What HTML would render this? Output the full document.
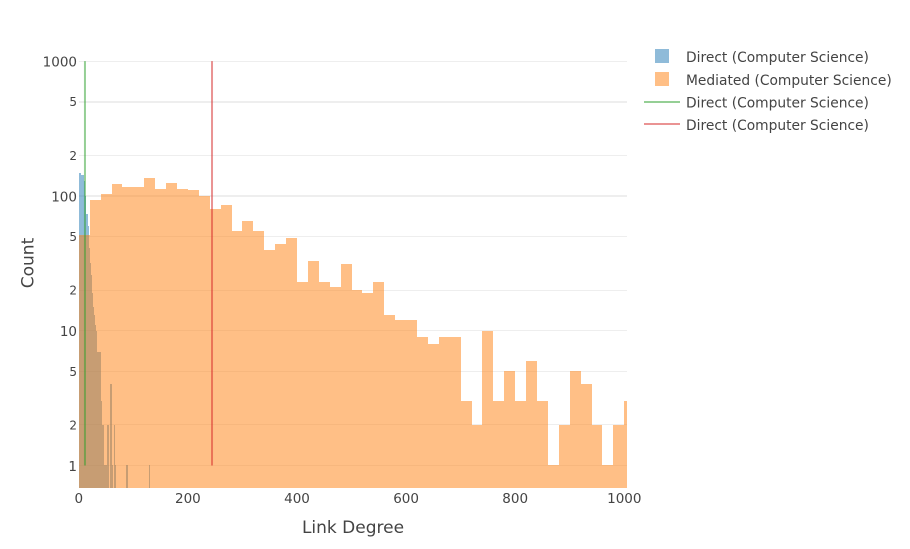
<!DOCTYPE html>
<html>
<head>
<meta charset="utf-8">
<title>Link Degree Histogram</title>
<style>
html,body{margin:0;padding:0;background:#fff;width:910px;height:549px;overflow:hidden}
svg{display:block}
text{font-family:"DejaVu Sans","Liberation Sans",sans-serif;fill:#444}
</style>
</head>
<body>
<svg id="chart" width="910" height="549" viewBox="0 0 910 549" xmlns="http://www.w3.org/2000/svg">
  <g id="grid" shape-rendering="crispEdges"></g>
  <g id="direct-bars" fill="#1f77b4" fill-opacity="0.5" shape-rendering="crispEdges"></g>
  <g id="mediated-bars" fill="#ff7f0e" fill-opacity="0.5" shape-rendering="crispEdges"></g>
  <g id="ref-lines"></g>
  <g id="x-ticks"></g>
  <g id="y-ticks"></g>
  <text x="353" y="533" text-anchor="middle" font-size="17">Link Degree</text>
  <text transform="translate(33.5,263) rotate(-90)" text-anchor="middle" font-size="17">Count</text>
  <g>
    <g>
      <rect x="655" y="49" width="14" height="14" fill="#1f77b4" fill-opacity="0.5"></rect>
      <text x="686" y="62" font-size="13.8">Direct (Computer Science)</text>
    </g>
    <g>
      <rect x="655" y="72" width="14" height="14" fill="#ff7f0e" fill-opacity="0.5"></rect>
      <text x="686" y="85" font-size="13.8">Mediated (Computer Science)</text>
    </g>
    <g>
      <line x1="644" x2="680" y1="102" y2="102" stroke="#2ca02c" stroke-opacity="0.5" stroke-width="2"></line>
      <text x="686" y="107.5" font-size="13.8">Direct (Computer Science)</text>
    </g>
    <g>
      <line x1="644" x2="680" y1="124" y2="124" stroke="#d62728" stroke-opacity="0.5" stroke-width="2"></line>
      <text x="686" y="130" font-size="13.8">Direct (Computer Science)</text>
    </g>
  </g>
</svg>
<script>
var directBinSize = 2;
var mediatedBinSize = 20;
var directCounts = [148,148,142,142,142,129,100,73,60,41,32,26,19,15,13,11,10,7,7,7,3,2,2,1,1,1,2,2,0,4,1,0,2,1,0,0,0,0,0,0,0,0,0,1,1,0,0,0,0,0,0,0,0,0,0,0,0,0,0,0,0,0,0,0,1];
var mediatedCounts = [51,93,103,123,116,116,136,113,125,113,110,100,80,85,55,65,55,40,44,49,23,33,23,21,31,20,19,23,13,12,12,9,8,9,9,3,2,10,3,5,3,6,3,1,2,5,4,2,1,2,3];
var xTickValues = [0,200,400,600,800,1000];
var yMajorTicks = [1,10,100,1000];
var yMinorTicks = [2,5,20,50,200,500];
var yThickGridTicks = [100,500];
var greenLineDegree = 11.3;
var redLineDegree = 244.2;
var lineRange = [1,1000];

var NS = 'http://www.w3.org/2000/svg';
var plotLeft = 78.8, plotRight = 627, plotBottom = 488;
function xScale(v){ return plotLeft + v * 0.5455; }
function yScale(v){ return 465.5 - 134.8 * Math.log10(v); }
function make(tag, parent){
  var el = document.createElementNS(NS, tag);
  parent.appendChild(el);
  return el;
}
function drawBars(parentId, counts, size, markName){
  var parent = document.getElementById(parentId);
  counts.forEach(function(c, i){
    if (c <= 0) return;
    var x0 = Math.round(xScale(i * size));
    var x1 = Math.min(Math.round(xScale((i + 1) * size)), plotRight);
    if (x0 >= plotRight) return;
    var top = Math.round(yScale(c) - 0.01);
    var r = make('rect', parent);
    
    
    r.setAttribute('x', x0);
    r.setAttribute('y', top);
    r.setAttribute('width', x1 - x0);
    r.setAttribute('height', plotBottom - top);
  });
}
var grid = document.getElementById('grid');
yMajorTicks.concat(yMinorTicks).forEach(function(v){
  var thick = yThickGridTicks.indexOf(v) >= 0;
  var row = Math.floor(yScale(v)) + (thick ? 1 : 0.5);
  var l = make('line', grid);
  
  
  l.setAttribute('x1', 79);
  l.setAttribute('x2', plotRight);
  l.setAttribute('y1', row);
  l.setAttribute('y2', row);
  l.setAttribute('stroke', '#eee');
  l.setAttribute('stroke-width', thick ? '2' : '1');
});
drawBars('direct-bars', directCounts, directBinSize, 'direct-bar');
drawBars('mediated-bars', mediatedCounts, mediatedBinSize, 'mediated-bar');

var refs = document.getElementById('ref-lines');
[[greenLineDegree, '#2ca02c', 'direct-green-line'], [redLineDegree, '#d62728', 'direct-red-line']].forEach(function(d){
  var l = make('line', refs);
  
  
  l.setAttribute('x1', xScale(d[0]));
  l.setAttribute('x2', xScale(d[0]));
  l.setAttribute('y1', yScale(lineRange[1]));
  l.setAttribute('y2', yScale(lineRange[0]));
  l.setAttribute('stroke', d[1]);
  l.setAttribute('stroke-opacity', '0.5');
  l.setAttribute('stroke-width', '2');
});

var xt = document.getElementById('x-ticks');
xTickValues.forEach(function(v){
  var t = make('text', xt);
  
  
  t.setAttribute('x', xScale(v));
  t.setAttribute('y', 503);
  t.setAttribute('text-anchor', 'middle');
  t.setAttribute('font-size', '13.5');
  t.textContent = v;
});
var yt = document.getElementById('y-ticks');
yMajorTicks.forEach(function(v){
  var t = make('text', yt);
  
  
  t.setAttribute('x', 77);
  t.setAttribute('y', yScale(v) + 5.5);
  t.setAttribute('text-anchor', 'end');
  t.setAttribute('font-size', '13.5');
  t.textContent = v;
});
yMinorTicks.forEach(function(v){
  var t = make('text', yt);
  
  
  t.setAttribute('x', 77);
  t.setAttribute('y', yScale(v) + 4.5);
  t.setAttribute('text-anchor', 'end');
  t.setAttribute('font-size', '12');
  t.textContent = String(v).charAt(0);
});
</script>
</body>
</html>
